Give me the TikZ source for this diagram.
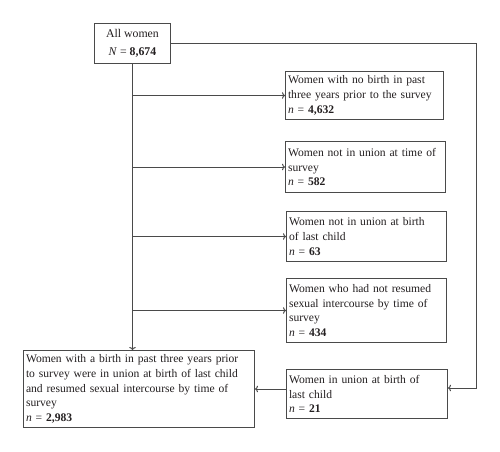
\documentclass[tikz,border=0pt]{standalone}
\usepackage{fontspec}
\setmainfont{Liberation Serif}
\usetikzlibrary{arrows.meta}
\definecolor{linec}{HTML}{4A4A4A}
\definecolor{textc}{HTML}{231F20}
\begin{document}
\begin{tikzpicture}[x=1pt,y=-1pt,
  box/.style={draw=linec, line width=1pt, text=textc,
    font=\fontsize{11.6}{14.8}\selectfont, align=left, anchor=north west,
    inner xsep=2.5pt, inner ysep=1.5pt},
  arr/.style={draw=linec, line width=1pt, -{To[length=3pt,width=6.5pt]}}]
\useasboundingbox (0,0) rectangle (500,451);
\node[box, align=center, font=\fontsize{11.8}{18}\selectfont, minimum width=76pt, minimum height=40pt] (all) at (94,23)
  {All women\\ \textit{N}~=~\textbf{8,674}};
\node[box, text width=153pt, minimum height=48pt] (b1) at (285,71)
  {\mbox{Women with no birth in past}\\ \mbox{three years prior to the survey}\\ \textit{n}~=~\textbf{4,632}};
\node[box, text width=155pt, minimum height=51pt] (b2) at (285,141)
  {\mbox{Women not in union at time of}\\ survey\\ \textit{n}~=~\textbf{582}};
\node[box, text width=155pt, minimum height=50pt] (b3) at (286,211)
  {\mbox{Women not in union at birth}\\ of last child\\ \textit{n}~=~\textbf{63}};
\node[box, text width=155pt, minimum height=64pt] (b4) at (286,278)
  {\mbox{Women who had not resumed}\\ \mbox{sexual intercourse by time of}\\ survey\\ \textit{n}~=~\textbf{434}};
\node[box, text width=156pt, minimum height=49pt] (b5) at (286,369)
  {\mbox{Women in union at birth of}\\ last child\\ \textit{n}~=~\textbf{21}};
\node[box, text width=226pt, minimum height=77pt] (bot) at (23,350)
  {\mbox{Women with a birth in past three years prior}\\ \mbox{to survey were in union at birth of last child}\\ \mbox{and resumed sexual intercourse by time of}\\ survey\\ \textit{n}~=~\textbf{2,983}};
\draw[arr] (all.south) -- (all.south |- bot.north);
\foreach \b in {b1,b2,b3,b4} {
  \draw[arr] (all.south |- \b.west) -- (\b.west);
}
\coordinate (rc) at (476,388);
\draw[arr] (all.east) -| (rc) -- (rc -| b5.east);
\draw[arr] (b5.west |- bot.east) -- (bot.east);
\end{tikzpicture}
\end{document}
